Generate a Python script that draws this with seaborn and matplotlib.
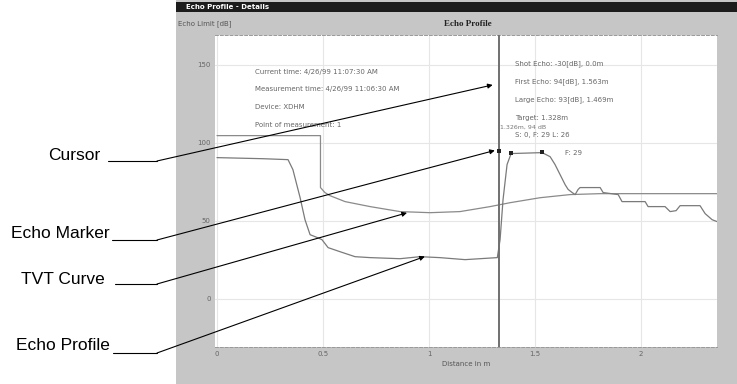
import pandas as pd
import matplotlib.pyplot as plt
import seaborn as sns
from matplotlib.patches import Rectangle
from matplotlib.lines import Line2D

# echo profile: distance [m] / level [dB]
profile_x = [0.0, 0.217, 0.335, 0.358, 0.392, 0.415, 0.439, 0.476, 0.495, 0.524, 0.58, 0.651,
             0.722, 0.863, 0.958, 1.05, 1.17, 1.322, 1.335, 1.349, 1.368, 1.387, 1.533, 1.571,
             1.594, 1.618, 1.642, 1.656, 1.675, 1.689, 1.703, 1.712, 1.807, 1.821, 1.892, 1.91,
             2.019, 2.033, 2.113, 2.137, 2.165, 2.184, 2.278, 2.302, 2.335, 2.358]
profile_db = [90.4, 89.7, 89.1, 82.7, 64.7, 50.6, 41.0, 39.0, 37.8, 32.7, 30.1, 26.9,
              26.3, 25.6, 26.9, 26.3, 25.0, 26.3, 37.8, 63.5, 86.0, 93.0, 93.6, 91.0,
              86.0, 79.5, 73.0, 70.0, 68.0, 66.7, 70.0, 71.2, 71.2, 68.0, 66.7, 62.2,
              62.2, 59.0, 59.0, 55.8, 56.4, 59.6, 59.6, 54.5, 50.6, 49.4]

# TVT curve
tvt_x = [0.0, 0.488, 0.488, 0.509, 0.533, 0.604, 0.722, 0.863, 1.005, 1.146, 1.288, 1.382,
         1.524, 1.665, 1.807, 2.358]
tvt_db = [104.5, 104.5, 71.2, 68.0, 66.0, 62.2, 59.0, 55.8, 55.1, 55.8, 59.0, 61.5,
          64.7, 66.7, 67.3, 67.3]

cursor_x = 1.328
marker_x = [1.328, 1.387, 1.533]
marker_db = [94.5, 93.5, 93.8]

xticks = [0, 0.5, 1, 1.5, 2]
xtick_labels = ["0", "0.5", "1", "1.5", "2"]
yticks = [0, 50, 100, 150]

info_left = ["Current time: 4/26/99 11:07:30 AM",
             "Measurement time: 4/26/99 11:06:30 AM",
             "Device: XDHM",
             "Point of measurement: 1"]
info_right = ["Shot Echo: -30[dB], 0.0m",
              "First Echo: 94[dB], 1.563m",
              "Large Echo: 93[dB], 1.469m",
              "Target: 1.328m",
              "S: 0, F: 29 L: 26"]

callouts = ["Cursor", "Echo Marker", "TVT Curve", "Echo Profile"]
callout_targets = [(1.30, 137), (1.31, 95), (0.896, 55), (0.98, 27)]

W, H = 737, 384
fig = plt.figure(figsize=(W / 100, H / 100), dpi=100)
fig.patch.set_facecolor("white")

def px(x, y):
    return x / W, 1 - y / H

# window frame + title bar
fig.add_artist(Rectangle(px(176, H), (W - 176) / W, 1, transform=fig.transFigure,
                         facecolor="#c6c6c6", edgecolor="none", zorder=-2))
fig.add_artist(Rectangle(px(176, 12), (W - 176) / W, 10 / H, transform=fig.transFigure,
                         facecolor="#1c1c1c", edgecolor="none", zorder=-1))
fig.text(*px(186, 7), "Echo Profile - Details", color="white", fontsize=5,
         fontweight="bold", va="center")
fig.text(*px(178, 24), "Echo Limit [dB]", color="#555555", fontsize=5, va="center")
fig.text(*px(468, 24), "Echo Profile", color="#222222", fontsize=6.5,
         fontweight="bold", va="center", ha="center", family="Liberation Serif")

sns.set_style("white")
l, r, b, t = 215, 717, 347, 35
ax = fig.add_axes([l / W, 1 - b / H, (r - l) / W, (b - t) / H])
ax.set_facecolor("white")

prof = pd.DataFrame({"dist": profile_x, "db": profile_db})
tvt = pd.DataFrame({"dist": tvt_x, "db": tvt_db})
sns.lineplot(data=tvt, x="dist", y="db", ax=ax, sort=False, estimator=None,
             color="#8a8a8a", lw=0.9)
sns.lineplot(data=prof, x="dist", y="db", ax=ax, sort=False, estimator=None,
             color="#7a7a7a", lw=0.9)
sns.scatterplot(x=marker_x, y=marker_db, ax=ax, marker="s", s=8, color="#222222",
                edgecolor="none", zorder=5)
ax.axvline(cursor_x, color="#707070", lw=1.4, zorder=4)

ax.set_xlim(-0.0094, 2.358)
ax.set_ylim(-31, 169)
ax.set_xticks(xticks)
ax.set_xticklabels(xtick_labels)
ax.set_yticks(yticks)
ax.grid(True, color="#e6e6e6", lw=0.8)
ax.set_axisbelow(True)
ax.tick_params(labelsize=5, colors="#666666", length=2, width=0.6, pad=1)
ax.set_xlabel("Distance in m", fontsize=5, color="#555555", labelpad=3)
ax.set_ylabel("")
for side in ["left", "right"]:
    ax.spines[side].set_visible(False)
for side in ["top", "bottom"]:
    ax.spines[side].set_linestyle((0, (3, 2)))
    ax.spines[side].set_color("#999999")
    ax.spines[side].set_linewidth(0.7)

info_kw = dict(fontsize=5, color="#666666", va="center")
for i, s in enumerate(info_left):
    ax.text(0.18, 145.5 - i * 11.4, s, **info_kw)
for i, s in enumerate(info_right):
    ax.text(1.406, 150.6 - i * 11.5, s, **info_kw)
ax.text(1.64, 93.6, "F: 29", **info_kw)
ax.text(1.335, 110.0, "1.326m, 94 dB", fontsize=4.5, color="#777777", va="center")

# callouts
narrow = ["Liberation Sans Narrow", "Liberation Sans", "DejaVu Sans"]
label_pos = [(100, 156), (110, 234), (105, 280), (110, 346)]
line_y = [161, 240, 284, 353]
line_x0 = [108, 112, 115, 113]
for name, (tx, ty), ly, lx0, target in zip(callouts, label_pos, line_y, line_x0, callout_targets):
    fig.text(*px(tx, ty), name, fontsize=12.5, family=narrow, ha="right", va="center",
             color="black")
    fig.add_artist(Line2D([lx0 / W, 157 / W], [1 - ly / H, 1 - ly / H],
                          transform=fig.transFigure, color="black", lw=0.8))
    ax.annotate("", xy=target, xycoords="data", xytext=(157, H - ly),
                textcoords="figure pixels",
                arrowprops=dict(arrowstyle="-|>", color="black", lw=0.8,
                                mutation_scale=7, shrinkA=0, shrinkB=0))

fig.savefig("out.png", dpi=100)
